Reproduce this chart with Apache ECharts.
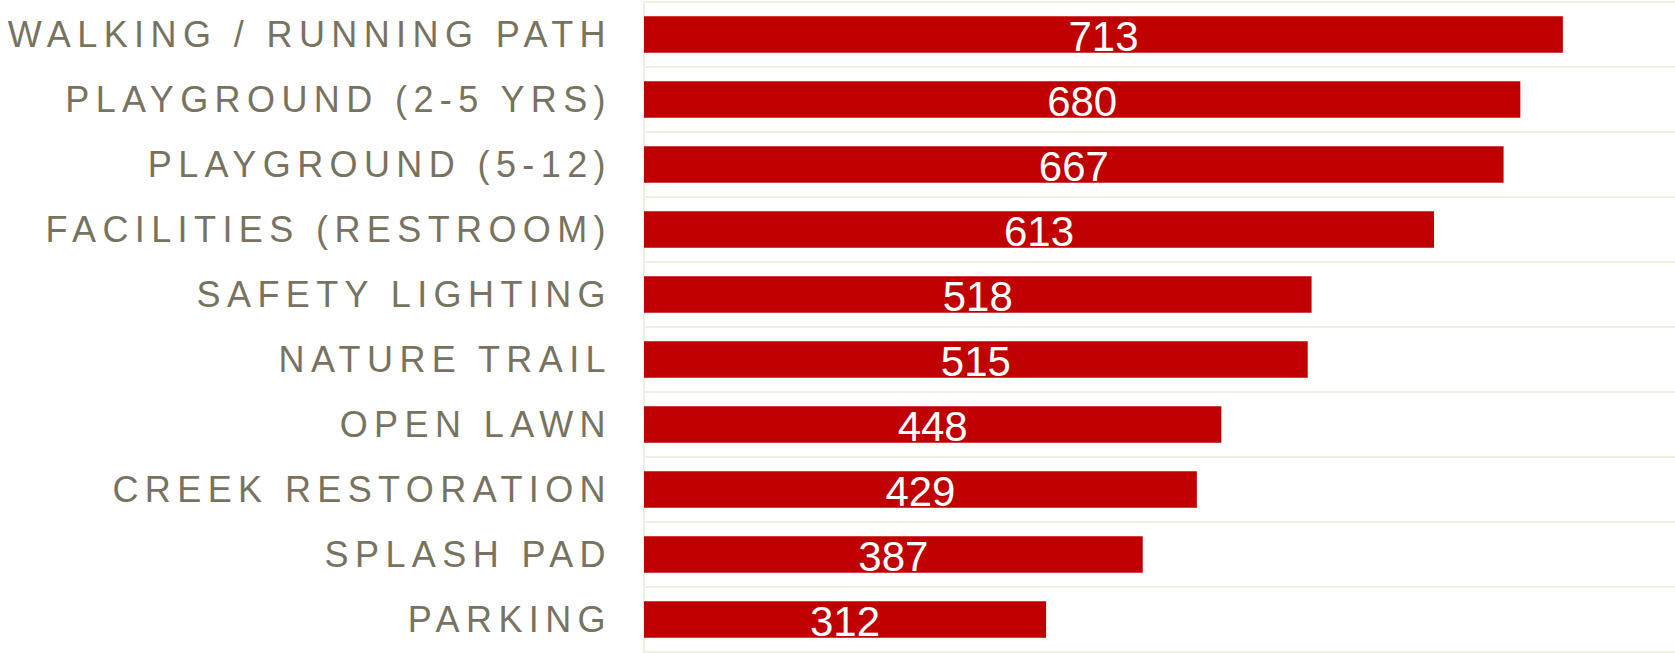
<!DOCTYPE html>
<html>
<head>
<meta charset="utf-8">
<script src="https://cdn.jsdelivr.net/npm/echarts@6/dist/echarts.min.js"></script>
<style>
  html, body { margin: 0; padding: 0; background: #fff; }
  #chart { width: 1675px; height: 653px; }
</style>
</head>
<body>
<div id="chart"></div>
<script>
var categories = [
  "WALKING / RUNNING PATH",
  "PLAYGROUND (2-5 YRS)",
  "PLAYGROUND (5-12)",
  "FACILITIES (RESTROOM)",
  "SAFETY LIGHTING",
  "NATURE TRAIL",
  "OPEN LAWN",
  "CREEK RESTORATION",
  "SPLASH PAD",
  "PARKING"
];
var votes = [713, 680, 667, 613, 518, 515, 448, 429, 387, 312];

var chart = echarts.init(document.getElementById("chart"), null, { renderer: "svg" });

var option = {
  animation: false,
  grid: { left: 644, right: 0, top: 2, bottom: 1, containLabel: false },
  xAxis: {
    type: "value",
    min: 0,
    max: 800,
    show: false,
    splitLine: { show: false }
  },
  yAxis: {
    type: "category",
    inverse: true,
    data: categories,
    axisTick: { show: false },
    axisLine: { show: true, lineStyle: { color: "#f0f0e2", width: 2 } },
    splitLine: { show: true, interval: 0, lineStyle: { color: "#f0f0e2", width: 2 } },
    axisLabel: {
      margin: 32,
      color: "#787360",
      fontSize: 36,
      fontFamily: "Liberation Sans",
      interval: 0
    }
  },
  series: [
    {
      type: "bar",
      data: votes,
      barCategoryGap: "44%",
      itemStyle: { color: "#c00000" },
      label: {
        show: true,
        position: "inside",
        color: "#ffffff",
        fontSize: 42,
        fontFamily: "Arial",
        offset: [0, 2]
      }
    }
  ]
};

chart.setOption(option);
</script>
<style>
  /* spaced-out caps for the category names only */
  #chart text[style*="Liberation"] { letter-spacing: 6.4px; }
</style>
</body>
</html>
